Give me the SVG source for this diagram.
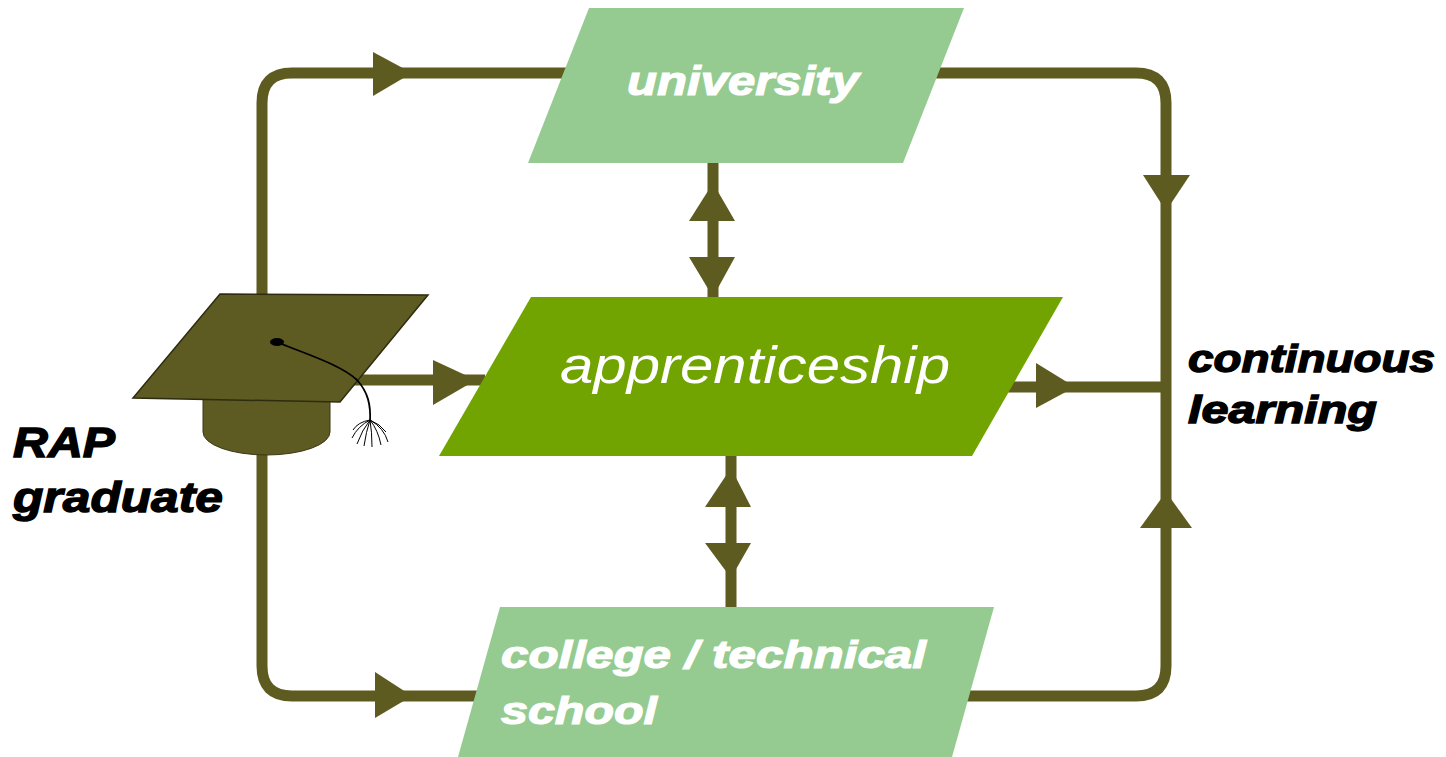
<svg xmlns="http://www.w3.org/2000/svg" width="1446" height="757" viewBox="0 0 1446 757">
<style>
.ln{fill:none;stroke:#5e5b20;stroke-width:11;stroke-linejoin:round}
.ah{fill:#5e5b20}
.lg{fill:#95cb91}
.dg{fill:#71a400}
.wt{fill:#fff;stroke:#fff;stroke-width:1.2;font-family:"Liberation Sans",Arial,sans-serif;font-style:italic;font-weight:bold}
.bk{fill:#000;stroke:#000;stroke-width:1.4;font-family:"Liberation Sans",Arial,sans-serif;font-style:italic;font-weight:bold}
</style>
<rect width="1446" height="757" fill="#fff"/>
<g id="connectors">
<path class="ln" d="M262,300 V103 Q262,73 292,73 H570"/>
<path class="ln" d="M262,450 V666 Q262,696 292,696 H480"/>
<path class="ln" d="M930,73 H1136 Q1166,73 1166,103 V666 Q1166,696 1136,696 H960"/>
<path class="ln" d="M340,380 H485"/>
<path class="ln" d="M1000,387 H1166"/>
<path class="ln" d="M713,163 V297"/>
<path class="ln" d="M731,456 V608"/>
<polygon class="ah" points="373,52 412,73 373,96"/>
<polygon class="ah" points="375,672 412,696 375,718"/>
<polygon class="ah" points="433,360 476,380 433,405"/>
<polygon class="ah" points="1036,363 1075,387 1036,408"/>
<polygon class="ah" points="1143,175 1190,175 1166,211"/>
<polygon class="ah" points="1140,528 1192,528 1166,492"/>
<polygon class="ah" points="689,221 735,221 713,183"/>
<polygon class="ah" points="689,257 735,257 713,297"/>
<polygon class="ah" points="705,507 751,507 731,468"/>
<polygon class="ah" points="705,543 751,543 731,578"/>
</g>
<g id="university">
<polygon class="lg" points="589,8 964,8 903,163 528,163"/>
<text class="wt" x="627" y="95" font-size="41" textLength="232" lengthAdjust="spacingAndGlyphs">university</text>
</g>
<g id="apprenticeship">
<polygon class="dg" points="531,297 1063,297 972,456 439,456"/>
<text x="560" y="383" font-size="52" fill="#fff" font-family="'Liberation Sans',Arial,sans-serif" font-style="italic" textLength="390" lengthAdjust="spacingAndGlyphs">apprenticeship</text>
</g>
<g id="college">
<polygon class="lg" points="500,607 994,607 952,757 458,757"/>
<text class="wt" x="501" y="668" font-size="39" textLength="425" lengthAdjust="spacingAndGlyphs">college / technical</text>
<text class="wt" x="501" y="724" font-size="39" textLength="156" lengthAdjust="spacingAndGlyphs">school</text>
</g>
<g id="continuous-learning">
<text class="bk" x="1188" y="372" font-size="39" textLength="247" lengthAdjust="spacingAndGlyphs">continuous</text>
<text class="bk" x="1188" y="423" font-size="39" textLength="189" lengthAdjust="spacingAndGlyphs">learning</text>
</g>
<g id="rap-graduate">
<path d="M203,380 V432 A63.5,23 0 0 0 330,432 V380 Z" fill="#5d5a22" stroke="#3a3814" stroke-width="1"/>
<polygon points="220,294 428,295 340,402 133,398" fill="#5d5a22" stroke="#2e2c10" stroke-width="1.5"/>
<ellipse cx="277" cy="342" rx="7" ry="4" fill="#000"/>
<path d="M277,342 C300,352 340,364 357,380 C368,392 371,405 370,422" fill="none" stroke="#000" stroke-width="1.8"/>
<g fill="none" stroke="#000" stroke-width="1">
<path d="M370,420 Q358,426 352,438"/>
<path d="M370,420 Q362,430 357,444"/>
<path d="M370,420 Q366,432 364,446"/>
<path d="M370,420 Q372,432 372,447"/>
<path d="M370,420 Q378,430 381,445"/>
<path d="M370,420 Q384,428 388,442"/>
<path d="M370,420 Q380,424 386,432"/>
<path d="M370,420 Q358,422 353,430"/>
</g>
<text class="bk" x="13" y="457" font-size="43" textLength="102" lengthAdjust="spacingAndGlyphs">RAP</text>
<text class="bk" x="13" y="512" font-size="43" textLength="210" lengthAdjust="spacingAndGlyphs">graduate</text>
</g>
</svg>
